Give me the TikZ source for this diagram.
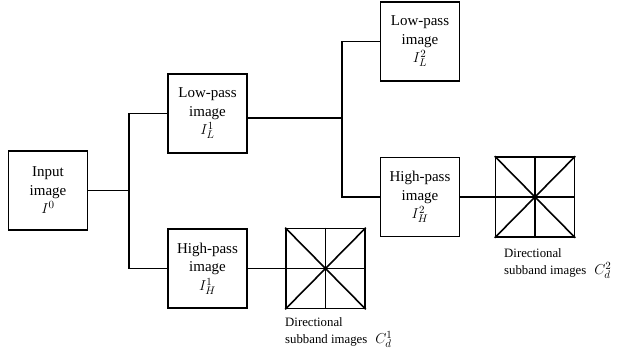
\documentclass[tikz,border=0pt]{standalone}
\usepackage{fontspec}
\setmainfont{Liberation Serif}
\begin{document}
\begin{tikzpicture}[x=1pt,y=-1pt,
  every node/.style={font=\rmfamily\fontsize{15}{18.5}\selectfont},
  block/.style={draw,line width=1.6pt,minimum width=79pt,minimum height=79pt,
    inner sep=0pt,align=center},
  gridbox/.style={draw,line width=1.6pt,minimum width=79pt,minimum height=80pt,inner sep=0pt},
  wire/.style={line width=1.6pt},
  caption/.style={align=left,anchor=north west,inner sep=0pt,
    font=\rmfamily\fontsize{12.8}{17}\selectfont}]
\useasboundingbox (0,0) rectangle (621,354);

% processing blocks
\node[block] (in) at (48,190.5) {Input\\image\\$I^0$};
\node[block] (l1) at (207.5,113.5) {Low-pass\\image\\$I_L^1$};
\node[block] (h1) at (207.5,268.5) {High-pass\\image\\$I_H^1$};
\node[block] (l2) at (420,41.5) {Low-pass\\image\\$I_L^2$};
\node[block] (h2) at (420,197) {High-pass\\image\\$I_H^2$};

% directional subband grids
\node[gridbox] (g1) at (325.5,268.5) {};
\node[gridbox] (g2) at (535,197) {};
\foreach \g in {g1,g2}{
  \draw[wire] (\g.north) -- (\g.south);
  \draw[wire] (\g.west) -- (\g.east);
  \draw[wire] (\g.north west) -- (\g.south east);
  \draw[wire] (\g.south west) -- (\g.north east);
}

% branching points
\coordinate (t1) at (129,190.5);
\coordinate (t2) at (342,118);

% first decomposition level
\draw[wire] (in.east) -- (t1);
\draw[wire] (l1.west) -| (t1) |- (h1.west);
\draw[wire] (h1.east) -- (g1.west);

% second decomposition level
\draw[wire] ([yshift=-4.5pt]l1.east) -- (t2);
\draw[wire] (l2.west) -| (t2) |- (h2.west);
\draw[wire] (h2.east) -- (g2.west);

% captions
\node[caption] (c1) at (285,317.5)
  {Directional\\subband images\hspace{8pt}{\fontsize{15}{17}\selectfont$C_d^1$}};
\node[caption] (c2) at (504,248.5)
  {Directional\\subband images\hspace{8pt}{\fontsize{15}{17}\selectfont$C_d^2$}};
\end{tikzpicture}
\end{document}
